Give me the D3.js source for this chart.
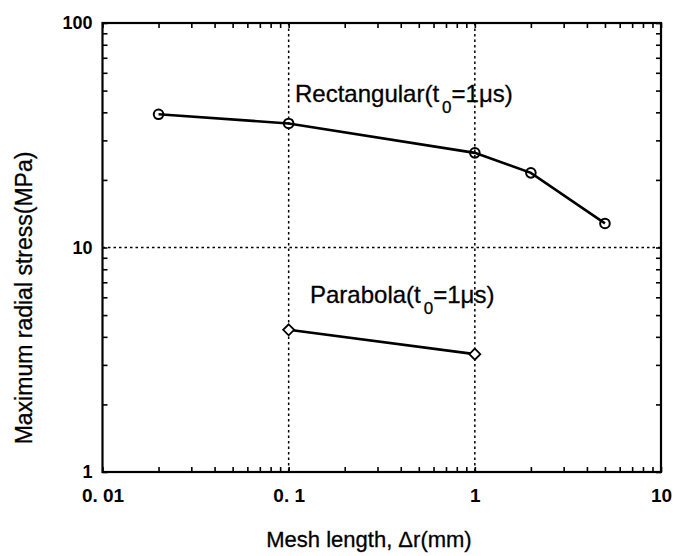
<!DOCTYPE html>
<html>
<head>
<meta charset="utf-8">
<script src="https://cdn.jsdelivr.net/npm/d3@7"></script>
<style>
  html, body { margin: 0; padding: 0; background: #fff; }
  svg { display: block; }
  text { font-family: "Liberation Sans", Arial, Helvetica, sans-serif; fill: #000; }
</style>
</head>
<body>
<script>
// Mesh length (mm) and peak radial stress (MPa) for each series
const rectMesh = [0.02, 0.1, 1, 2, 5];
const rectStress = [39.2, 35.7, 26.4, 21.5, 12.8];
const paraMesh = [0.1, 1];
const paraStress = [4.3, 3.35];

const xTicks = [0.01, 0.1, 1, 10];
const xTickLabels = ["0. 01", "0. 1", "1", "10"];
const yTicks = [1, 10, 100];
const yTickLabels = ["1", "10", "100"];
const xGrid = [0.1, 1];
const yGrid = [10];

const W = 676, H = 556;
const L = 102.5, R = 661, T = 23, B = 472;

const svg = d3.select("body").append("svg")
  .attr("width", W).attr("height", H);

const x = d3.scaleLog().domain([0.01, 10]).range([L, R]);
const y = d3.scaleLog().domain([1, 100]).range([B, T]);

// minor + major tick values across each decade
function decadeTicks(lo, hi) {
  const out = [];
  for (let p = Math.log10(lo); p < Math.log10(hi); p++) {
    for (let m = 1; m <= 9; m++) out.push(m * Math.pow(10, p));
  }
  out.push(hi);
  return out;
}
const xAll = decadeTicks(0.01, 10);
const yAll = decadeTicks(1, 100);

// dotted reference grid
const grid = svg.append("g").attr("stroke", "#000").attr("stroke-width", 1.5)
  .attr("stroke-dasharray", "2.5,3");
grid.selectAll("line.gx").data(xGrid).join("line")
  .attr("x1", d => x(d)).attr("x2", d => x(d)).attr("y1", T).attr("y2", B);
grid.selectAll("line.gy").data(yGrid).join("line")
  .attr("x1", L).attr("x2", R).attr("y1", d => y(d)).attr("y2", d => y(d));

// inward ticks on all four sides
function tickAxis(axis, vals, tx, ty) {
  const g = svg.append("g").attr("transform", `translate(${tx},${ty})`)
    .call(axis.tickValues(vals).tickSizeInner(-5).tickSizeOuter(0).tickFormat(""));
  g.select(".domain").remove();
  g.selectAll(".tick line").attr("stroke", "#000").attr("stroke-width", 1.6);
  return g;
}
tickAxis(d3.axisBottom(x), xAll, 0, B);
tickAxis(d3.axisTop(x), xAll, 0, T);
tickAxis(d3.axisLeft(y), yAll, L, 0);
tickAxis(d3.axisRight(y), yAll, R, 0);

// tick labels
const xLab = svg.append("g").attr("transform", `translate(0,${B})`)
  .call(d3.axisBottom(x).tickValues(xTicks).tickSize(0).tickPadding(17)
    .tickFormat((d, i) => xTickLabels[i]));
xLab.select(".domain").remove();
xLab.selectAll("text").attr("font-size", 19).attr("font-weight", "bold")
  .style("font-family", "'Liberation Sans', Arial, sans-serif");

const yLab = svg.append("g").attr("transform", `translate(${L},0)`)
  .call(d3.axisLeft(y).tickValues(yTicks).tickSize(0).tickPadding(10)
    .tickFormat((d, i) => yTickLabels[i]));
yLab.select(".domain").remove();
yLab.selectAll("text").attr("font-size", 18).attr("font-weight", "bold")
  .style("font-family", "'Liberation Sans', Arial, sans-serif");

// plot frame
svg.append("rect").attr("x", L).attr("y", T).attr("width", R - L).attr("height", B - T)
  .attr("fill", "none").attr("stroke", "#000").attr("stroke-width", 2.2);

// series lines
const line = d3.line().x(d => x(d[0])).y(d => y(d[1]));
const rectData = rectMesh.map((m, i) => [m, rectStress[i]]);
const paraData = paraMesh.map((m, i) => [m, paraStress[i]]);

svg.append("path").datum(rectData).attr("d", line)
  .attr("fill", "none").attr("stroke", "#000").attr("stroke-width", 2.6);
svg.append("path").datum(paraData).attr("d", line)
  .attr("fill", "none").attr("stroke", "#000").attr("stroke-width", 2.6);

// markers
svg.selectAll("circle.rect").data(rectData).join("circle")
  .attr("cx", d => x(d[0])).attr("cy", d => y(d[1])).attr("r", 4.8)
  .attr("fill", "none").attr("stroke", "#000").attr("stroke-width", 2);
svg.selectAll("path.dia").data(paraData).join("path")
  .attr("transform", d => `translate(${x(d[0])},${y(d[1])})`)
  .attr("d", "M0,-5.5L5.5,0L0,5.5L-5.5,0Z")
  .attr("fill", "#fff").attr("stroke", "#000").attr("stroke-width", 1.8);

// series labels with subscript
function seriesLabel(name, tx, ty) {
  const t = svg.append("text").attr("x", tx).attr("y", ty).attr("font-size", 24)
    .attr("stroke", "#000").attr("stroke-width", 0.3);
  t.append("tspan").text(name + "(t");
  t.append("tspan").attr("dx", 3).attr("dy", 11).attr("font-size", 17).text("0");
  t.append("tspan").attr("dy", -11).text("=1\u03bcs)");
}
seriesLabel("Rectangular", 295, 102);
seriesLabel("Parabola", 310, 303);

// axis titles
svg.append("text").attr("x", 369).attr("y", 547).attr("text-anchor", "middle")
  .attr("font-size", 22).attr("stroke", "#000").attr("stroke-width", 0.3)
  .text("Mesh length, \u0394r(mm)");
svg.append("text").attr("transform", "translate(32,298) rotate(-90)")
  .attr("text-anchor", "middle").attr("font-size", 23)
  .attr("stroke", "#000").attr("stroke-width", 0.3)
  .text("Maximum radial stress(MPa)");
</script>
</body>
</html>
